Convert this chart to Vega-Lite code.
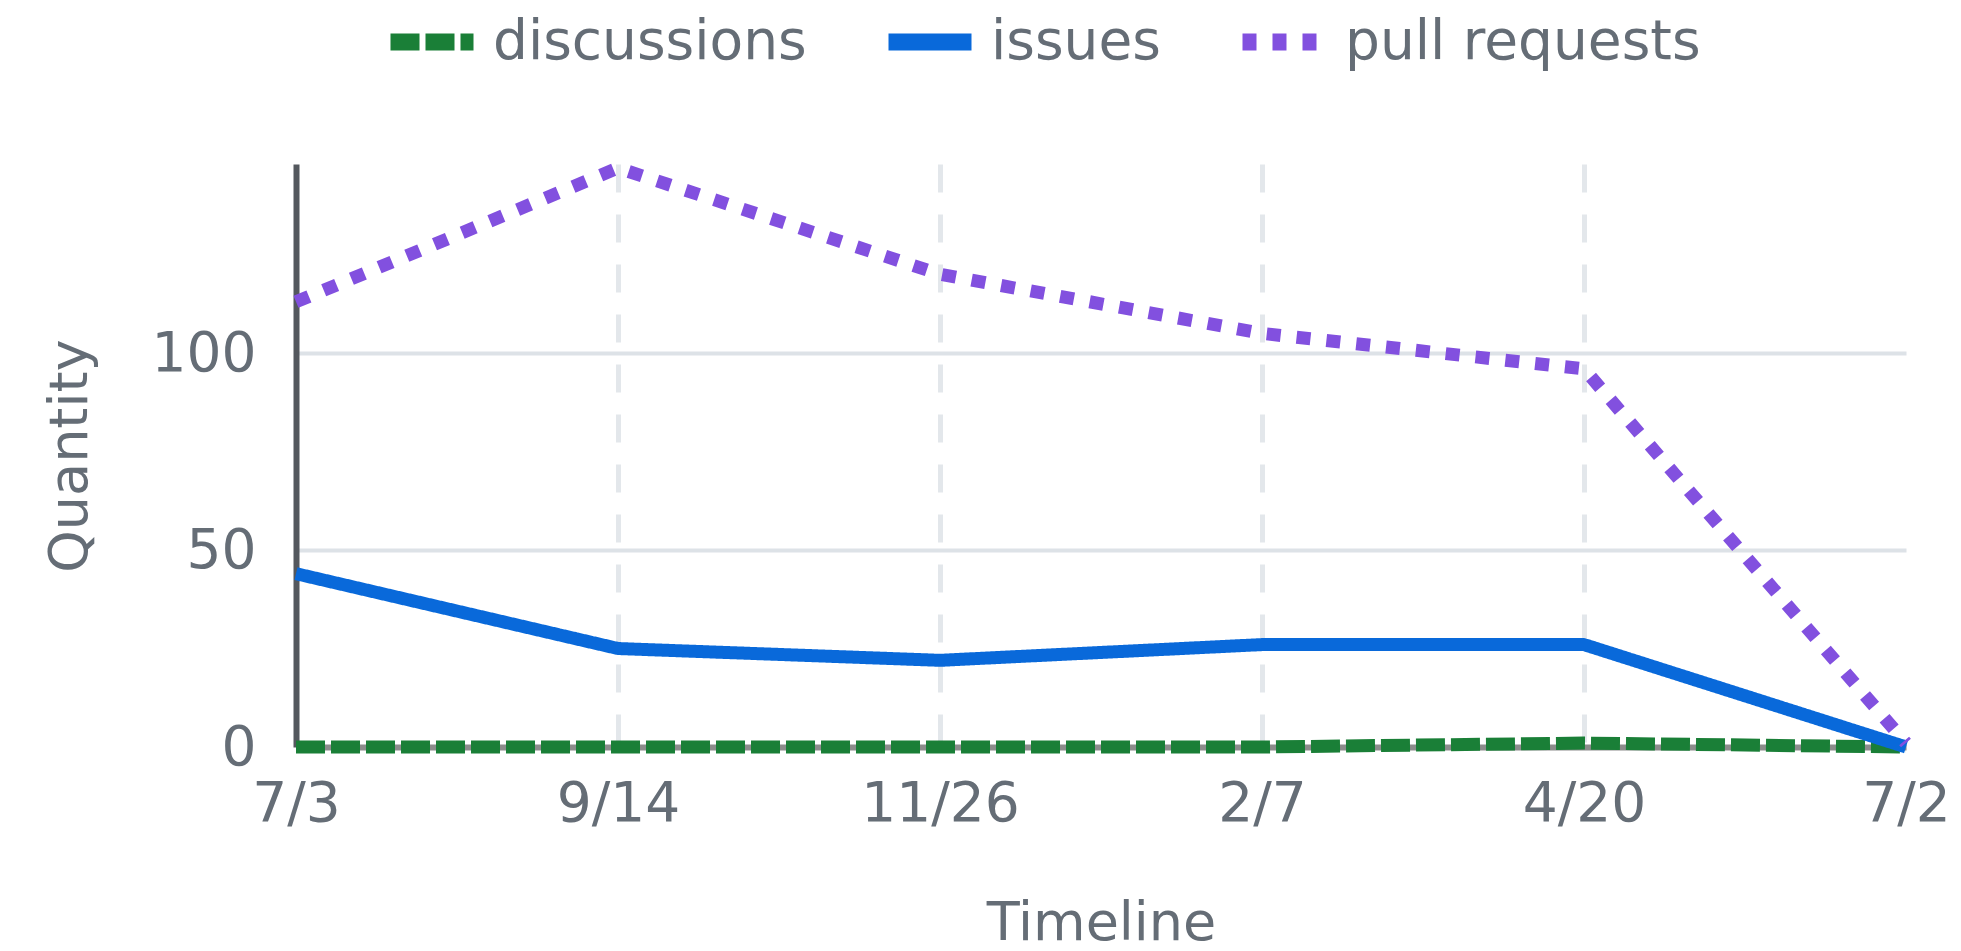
{
  "$schema": "https://vega.github.io/schema/vega-lite/v6.json",
  "autosize": {"type": "none"},
  "padding": {"left": 296, "top": 164, "right": 55, "bottom": 204},
  "width": 1610,
  "height": 583,
  "background": "#ffffff",
  "config": {
    "view": {"stroke": null},
    "font": "DejaVu Sans",
    "axis": {
      "labelFont": "DejaVu Sans",
      "titleFont": "DejaVu Sans",
      "labelColor": "#656d76",
      "titleColor": "#656d76",
      "titleFontWeight": "normal"
    }
  },
  "data": {
    "values": [
      {"date": "7/3", "series": "discussions", "value": 0},
      {"date": "9/14", "series": "discussions", "value": 0},
      {"date": "11/26", "series": "discussions", "value": 0},
      {"date": "2/7", "series": "discussions", "value": 0},
      {"date": "4/20", "series": "discussions", "value": 1},
      {"date": "7/2", "series": "discussions", "value": 0},
      {"date": "7/3", "series": "issues", "value": 44},
      {"date": "9/14", "series": "issues", "value": 25},
      {"date": "11/26", "series": "issues", "value": 22},
      {"date": "2/7", "series": "issues", "value": 26},
      {"date": "4/20", "series": "issues", "value": 26},
      {"date": "7/2", "series": "issues", "value": 0},
      {"date": "7/3", "series": "pull requests", "value": 113},
      {"date": "9/14", "series": "pull requests", "value": 147},
      {"date": "11/26", "series": "pull requests", "value": 120},
      {"date": "2/7", "series": "pull requests", "value": 105},
      {"date": "4/20", "series": "pull requests", "value": 96},
      {"date": "7/2", "series": "pull requests", "value": 1}
    ]
  },
  "mark": {"type": "line", "strokeWidth": 13, "strokeCap": "butt", "strokeJoin": "round"},
  "encoding": {
    "x": {
      "field": "date",
      "type": "ordinal",
      "sort": ["7/3", "9/14", "11/26", "2/7", "4/20", "7/2"],
      "scale": {"type": "point", "padding": 0},
      "axis": {
        "title": "Timeline",
        "titleFontSize": 54,
        "titlePadding": 65,
        "labelFontSize": 55,
        "labelAngle": 0,
        "labelPadding": 30,
        "ticks": false,
        "tickSize": 0,
        "domain": true,
        "domainColor": "#8c8c8c",
        "domainWidth": 6,
        "grid": true,
        "gridColor": "#e3e7eb",
        "gridOpacity": {"condition": {"test": "datum.value === '7/2' || datum.value === '7/3'", "value": 0}, "value": 1},
        "gridWidth": 5,
        "gridDash": [28, 22]
      }
    },
    "y": {
      "field": "value",
      "type": "quantitative",
      "scale": {"domain": [0, 148], "nice": false},
      "axis": {
        "title": "Quantity",
        "titleFontSize": 54,
        "titlePadding": 54,
        "values": [0, 50, 100],
        "labelFontSize": 55,
        "labelPadding": 40,
        "ticks": false,
        "tickSize": 0,
        "domain": true,
        "domainColor": "#54585e",
        "domainWidth": 6,
        "grid": true,
        "gridColor": "#dde2e7",
        "gridWidth": 4
      }
    },
    "color": {
      "field": "series",
      "type": "nominal",
      "scale": {
        "domain": ["discussions", "issues", "pull requests"],
        "range": ["#1a7f37", "#0969da", "#8250df"]
      },
      "legend": {
        "title": null,
        "orient": "none",
        "legendX": 86,
        "legendY": -172,
        "direction": "horizontal",
        "symbolType": "stroke",
        "symbolSize": 6889,
        "symbolStrokeWidth": 17,
        "labelFontSize": 55,
        "labelFont": "DejaVu Sans",
        "labelColor": "#656d76",
        "labelOffset": 11,
        "labelLimit": 0,
        "columnPadding": 47,
        "padding": 0
      }
    },
    "strokeDash": {
      "field": "series",
      "type": "nominal",
      "scale": {
        "domain": ["discussions", "issues", "pull requests"],
        "range": [[29, 6], [1, 0], [14, 16]]
      },
      "legend": null
    }
  }
}
